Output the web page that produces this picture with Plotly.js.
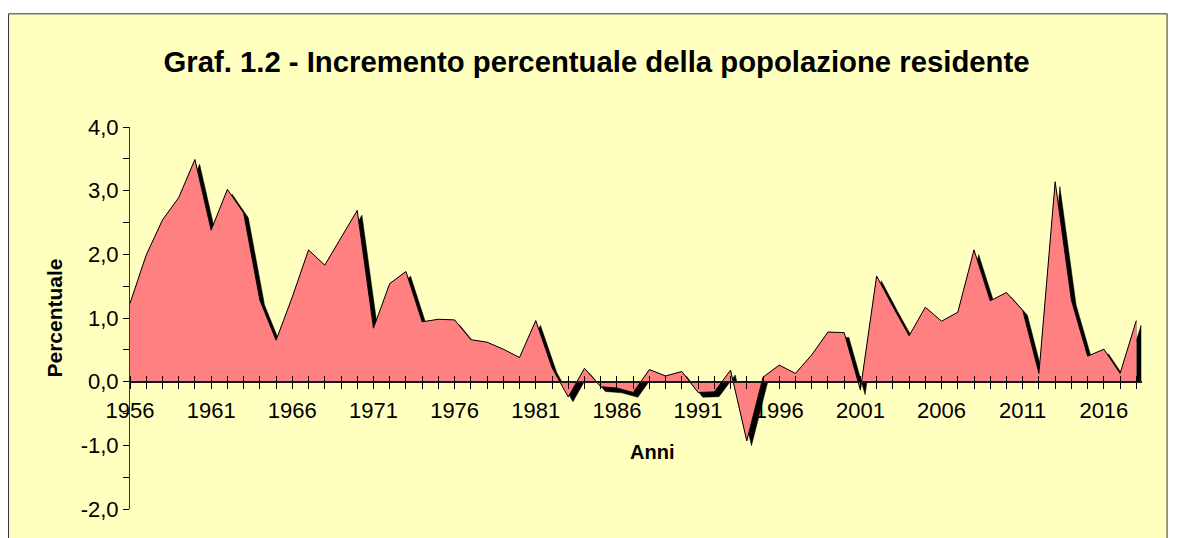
<!DOCTYPE html>
<html>
<head>
<meta charset="utf-8">
<script src="https://cdn.plot.ly/plotly-3.0.1.min.js"></script>
<style>
  html, body { margin: 0; padding: 0; background: #ffffff; }
  #chart { width: 1178px; height: 538px; }
</style>
</head>
<body>
<div id="chart"></div>
<script>
// ---- Data ----
const years = [1956, 1957, 1958, 1959, 1960, 1961, 1962, 1963, 1964, 1965,
               1966, 1967, 1968, 1969, 1970, 1971, 1972, 1973, 1974, 1975,
               1976, 1977, 1978, 1979, 1980, 1981, 1982, 1983, 1984, 1985,
               1986, 1987, 1988, 1989, 1990, 1991, 1992, 1993, 1994, 1995,
               1996, 1997, 1998, 1999, 2000, 2001, 2002, 2003, 2004, 2005,
               2006, 2007, 2008, 2009, 2010, 2011, 2012, 2013, 2014, 2015,
               2016, 2017, 2018];
const increment = [1.23, 1.99, 2.54, 2.89, 3.49, 2.38, 3.02, 2.65, 1.28, 0.65,
                   1.33, 2.07, 1.83, 2.27, 2.69, 0.84, 1.54, 1.73, 0.94, 0.98,
                   0.97, 0.66, 0.62, 0.51, 0.38, 0.96, 0.22, -0.24, 0.21, -0.08,
                   -0.10, -0.17, 0.19, 0.09, 0.16, -0.17, -0.16, 0.18, -0.93, 0.07,
                   0.26, 0.13, 0.42, 0.78, 0.77, -0.13, 1.66, 1.18, 0.72, 1.17,
                   0.95, 1.09, 2.07, 1.27, 1.40, 1.12, 0.13, 3.14, 1.28, 0.40,
                   0.51, 0.13, 0.96];
const yTickVals = [-2, -1, 0, 1, 2, 3, 4];
const yTickText = ["-2,0", "-1,0", "0,0", "1,0", "2,0", "3,0", "4,0"];
const titleText = "Graf. 1.2 - Incremento percentuale della popolazione residente";
const xTitle = "Anni";
const yTitle = "Percentuale";

// ---- Style constants ----
const W = 1178, H = 538;
const M = {l: 130, r: 35.6, t: 126.7, b: 29.2};
const plotW = W - M.l - M.r, plotH = H - M.t - M.b;
const shadowDX = 0.29;   // shadow offset in years
const shadowDY = 0.075;  // shadow offset in percent units
const FONT = "Liberation Sans, Arial, sans-serif";
const yRange = [-2, 4];
const xRange = [1956, 2018.35];
const axisPos = (0 - yRange[0]) / (yRange[1] - yRange[0]);

// closed outline (data plus drop to baseline at the end)
const lastYear = years[years.length - 1];
const outlineX = years.concat([lastYear]);
const outlineY = increment.concat([0]);
const shadowX = outlineX.map(v => v + shadowDX);
const shadowY = increment.map(v => v - shadowDY).concat([0]);

const traces = [
  {x: outlineX, y: outlineY, type: 'scatter', mode: 'lines',
   line: {width: 0, color: 'rgba(0,0,0,0)'}, hoverinfo: 'skip', showlegend: false},
  {x: shadowX, y: shadowY, type: 'scatter', mode: 'lines', fill: 'tonexty',
   fillcolor: '#000000', line: {width: 0.5, color: '#000000'}, hoverinfo: 'skip', showlegend: false},
  {x: years, y: increment, type: 'scatter', mode: 'lines', fill: 'tozeroy',
   fillcolor: '#FF8080', line: {width: 1, color: '#000000'}, showlegend: false}
];

const px2paperX = p => (p - M.l) / plotW;
const px2paperY = p => (H - M.b - p) / plotH;

const layout = {
  width: W, height: H,
  margin: M,
  paper_bgcolor: '#ffffff',
  plot_bgcolor: 'rgba(0,0,0,0)',
  separators: ',.',
  showlegend: false,
  font: {family: FONT, color: '#000000', size: 22},
  title: {
    text: titleText,
    font: {family: FONT, size: 29.3, weight: 'bold', color: '#000000'},
    x: 596.5 / W, xanchor: 'center', xref: 'container',
    y: 1 - 62 / H, yanchor: 'middle', yref: 'container'
  },
  xaxis: {
    range: xRange, anchor: 'free', position: axisPos,
    tickmode: 'linear', tick0: 1956, dtick: 5,
    ticks: 'outside', ticklen: 6, tickwidth: 1, tickcolor: '#000000',
    ticklabelstandoff: 3,
    minor: {tickmode: 'linear', tick0: 1956, dtick: 1, ticks: 'outside', ticklen: 6, tickwidth: 1, tickcolor: '#000000', showgrid: false},
    showline: true, linecolor: '#1a1a1a', linewidth: 2,
    showgrid: false, zeroline: false,
    tickfont: {family: FONT, size: 22, color: '#000000'}
  },
  xaxis2: {
    range: xRange, overlaying: 'x', anchor: 'free', position: axisPos, side: 'top',
    tickmode: 'linear', tick0: 1956, dtick: 1,
    ticks: 'outside', ticklen: 6, tickwidth: 1, tickcolor: '#000000',
    showticklabels: false, showline: false, showgrid: false, zeroline: false
  },
  yaxis: {
    range: yRange, tickmode: 'array', tickvals: yTickVals, ticktext: yTickText,
    ticks: 'outside', ticklen: 6, tickwidth: 1, tickcolor: '#000000',
    minor: {tickmode: 'linear', tick0: 0, dtick: 0.5, ticks: 'outside', ticklen: 6, tickwidth: 1, tickcolor: '#000000', showgrid: false},
    showline: true, linecolor: '#333333', linewidth: 1,
    showgrid: false, zeroline: false,
    tickfont: {family: FONT, size: 22, color: '#000000'},
    title: {text: yTitle, font: {family: FONT, size: 21, weight: 'bold', color: '#000000'}, standoff: 12}
  },
  annotations: [{
    text: xTitle, xref: 'paper', yref: 'paper',
    x: px2paperX(652), y: px2paperY(452), xanchor: 'center', yanchor: 'middle',
    showarrow: false, font: {family: FONT, size: 20, weight: 'bold', color: '#000000'}
  }],
  shapes: [{
    type: 'rect', xref: 'paper', yref: 'paper', layer: 'below',
    x0: px2paperX(8.5), x1: px2paperX(1167.5),
    y0: px2paperY(548), y1: px2paperY(13.5),
    line: {color: '#333333', width: 1}, fillcolor: '#FFFFC0'
  }]
};

// invisible trace to activate xaxis2 (top half of the crossing ticks)
traces.push({x: [1956], y: [0], xaxis: 'x2', type: 'scatter', mode: 'markers',
             marker: {opacity: 0}, hoverinfo: 'skip', showlegend: false});

Plotly.newPlot('chart', traces, layout, {displayModeBar: false, staticPlot: true});
</script>
</body>
</html>
